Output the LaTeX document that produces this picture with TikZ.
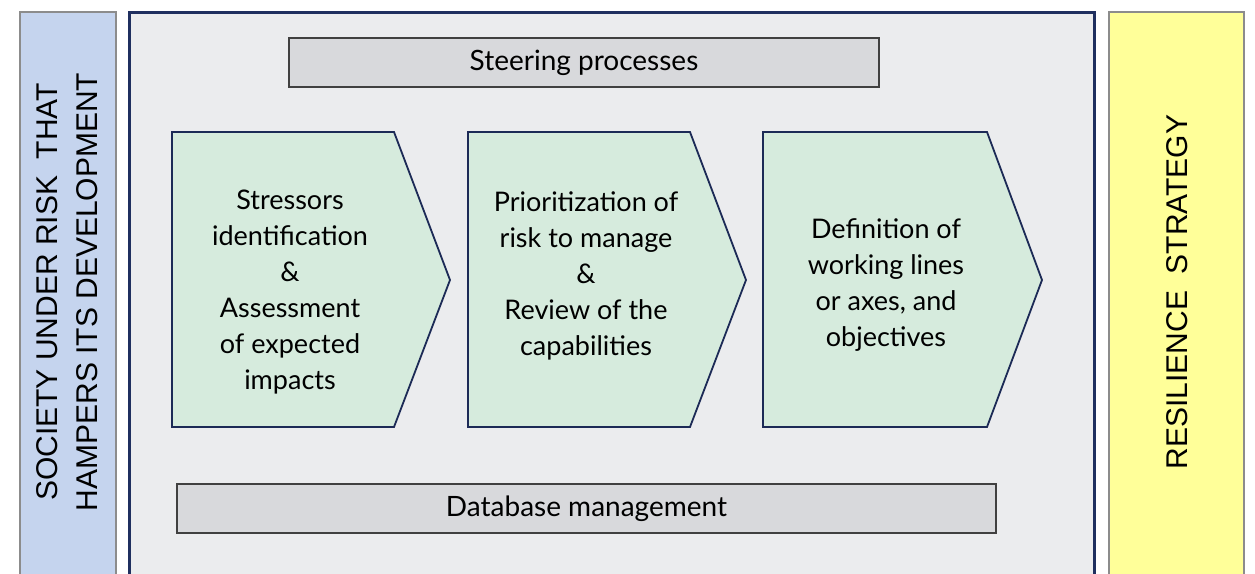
\documentclass[tikz,border=0pt]{standalone}
\usepackage{fontspec}
\setmainfont{Lato}
\newfontfamily\sidefont{Liberation Sans}
\usetikzlibrary{positioning}
\definecolor{sideBlue}{HTML}{C5D4EE}
\definecolor{sideYellow}{HTML}{FFFF99}
\definecolor{frameGray}{HTML}{EBECEE}
\definecolor{frameNavy}{HTML}{1F2F5F}
\definecolor{barGray}{HTML}{D8D9DC}
\definecolor{stepGreen}{HTML}{D6EBDD}
\tikzstyle{sideBox} = [draw=black!45, line width=1.2pt]
\tikzstyle{barBox} = [rectangle, draw=black!75, fill=barGray, line width=1.3pt, text centered, font=\fontsize{28}{32}\selectfont]
\tikzstyle{chevron} = [draw=frameNavy!90!black, fill=stepGreen, line width=1.8pt, line join=miter]
\tikzstyle{stepText} = [text centered, align=center, font=\fontsize{27}{36}\selectfont]
\tikzstyle{sideText} = [rotate=90, align=center, font=\sidefont\fontsize{30}{40}\selectfont]

\begin{document}
\begin{tikzpicture}[x=1pt, y=-1pt]
		\useasboundingbox (0,0) rectangle (1255,573);
		\clip (0,0) rectangle (1255,573);
		\fill[white] (0,0) rectangle (1255,573);
		% side panels and main frame
		\draw[sideBox, fill=sideBlue] (20,12) rectangle (116,590);
		\draw[sideBox, fill=sideYellow] (1109,12) rectangle (1244,590);
		\draw[draw=frameNavy, fill=frameGray, line width=3pt] (129,12) rectangle (1094,590);
		\node [sideText](society) at (67,292){SOCIETY UNDER RISK~ THAT\\HAMPERS ITS DEVELOPMENT};
		\node [sideText](strategy) at (1177,292){RESILIENCE~ STRATEGY};
		% top and bottom bars
		\node [barBox, minimum width=590pt, minimum height=49pt](steer) at (584,62.5){Steering processes};
		\node [barBox, minimum width=819pt, minimum height=49pt](data) at (586.5,508.5){Database management};
		% the three steps
		\draw[chevron] (172,132) -- (394,132) -- (450,280) -- (394,427) -- (172,427) -- cycle;
		\draw[chevron] (468,132) -- (690,132) -- (746,280) -- (690,427) -- (468,427) -- cycle;
		\draw[chevron] (763,132) -- (987,132) -- (1042,280) -- (987,427) -- (763,427) -- cycle;
		\node [stepText](s1) at (290,292){Stressors\\identification\\\&\\Assessment\\of expected\\impacts};
		\node [stepText](s2) at (586,276){Prioritization of\\risk to manage\\\&\\Review of the\\capabilities};
		\node [stepText](s3) at (886,285){Definition of\\working lines\\or axes, and\\objectives};
\end{tikzpicture}
\end{document}
